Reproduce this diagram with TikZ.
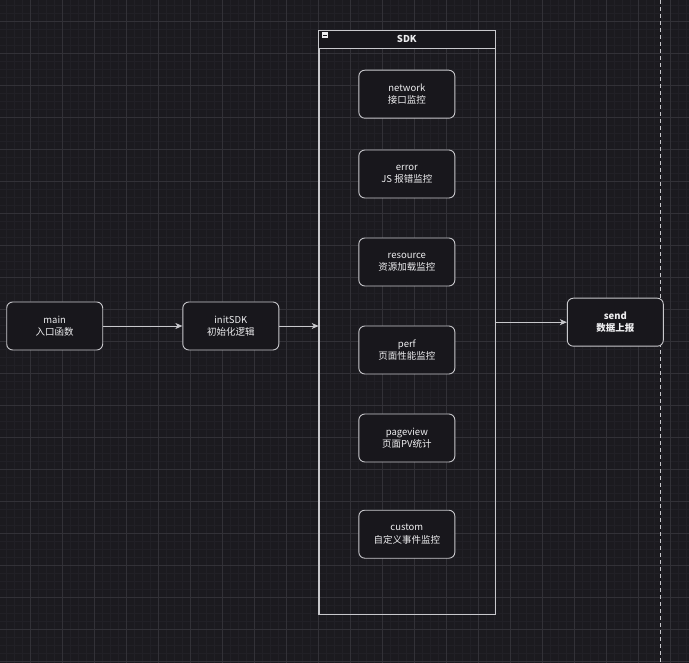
\documentclass[tikz,border=0pt]{standalone}
\usepackage{fontspec}
\setmainfont{Noto Sans CJK SC}
\usetikzlibrary{arrows.meta}
\definecolor{bgc}{RGB}{27,26,31}
\definecolor{minorc}{RGB}{33,32,38}
\definecolor{majorc}{RGB}{50,49,55}
\definecolor{boxfill}{RGB}{24,23,28}
\definecolor{edgec}{RGB}{200,200,204}
\definecolor{textc}{RGB}{238,238,240}
\tikzset{
  box/.style={draw=edgec, fill=boxfill, rounded corners=6pt, line width=0.9pt,
    minimum width=96pt, minimum height=48pt, inner sep=0pt, align=center,
    text=textc, font=\fontsize{9.5}{12.5}\selectfont},
  conn/.style={draw=edgec, line width=0.9pt, -{Stealth[length=7pt,width=6pt,inset=2pt]}},
  minorgrid/.style={draw=minorc, line width=0.6pt},
  majorgrid/.style={draw=majorc, line width=0.7pt},
}
\begin{document}
\begin{tikzpicture}[x=1pt,y=-1pt]
\useasboundingbox (0,0) rectangle (689,663);
\fill[bgc] (0,0) rectangle (689,663);
% grid
\foreach \i in {0,...,86} {\draw[minorgrid] ({-1.3+8*\i},0) -- ++(0,663);}
\foreach \i in {0,...,83} {\draw[minorgrid] (0,{-2.7+8*\i}) -- ++(689,0);}
\foreach \i in {0,...,22} {\draw[majorgrid] ({-1.3+32*\i},0) -- ++(0,663);}
\foreach \i in {0,...,21} {\draw[majorgrid] (0,{-10.7+32*\i}) -- ++(689,0);}
% dashed page line
\draw[draw=edgec, line width=0.9pt, dash pattern=on 4pt off 3pt] (660.3,0) -- (660.3,663);
% SDK container
\node[draw=edgec, line width=0.9pt, minimum width=176.3pt, minimum height=584pt, inner sep=0pt, anchor=north west] (sdk) at (318.7,30) {};
\fill[boxfill] (319.2,30.5) rectangle (494.5,48.3);
\draw[draw=edgec, line width=0.9pt] (318.7,30) rectangle (495,614);
\draw[draw=edgec, line width=0.9pt] (318.7,48.3) -- (495,48.3);
\node[text=textc, font=\fontsize{9.5}{12}\selectfont\bfseries] (sdktitle) at (406.85,39.2) {SDK};
\fill[textc] (322,32.3) rectangle (328,38.3);
\draw[boxfill, line width=0.9pt] (323.2,35.3) -- (326.8,35.3);
% left chain
\node[box] (main) at (54.7,326) {main\\入口函数};
\node[box] (init) at (230.85,326) {initSDK\\初始化逻辑};
% SDK children
\node[box] (network) at (406.85,94.2) {network\\接口监控};
\node[box] (error) at (406.85,174) {error\\JS 报错监控};
\node[box] (resource) at (406.85,262) {resource\\资源加载监控};
\node[box] (perf) at (406.85,350) {perf\\页面性能监控};
\node[box] (pageview) at (406.85,438) {pageview\\页面PV统计};
\node[box] (custom) at (406.85,534.2) {custom\\自定义事件监控};
% send
\node[box, font=\fontsize{9.5}{12.5}\selectfont\bfseries] (send) at (615.3,322.2) {send\\数据上报};
% connectors
\coordinate (sdkin) at (318.7,326);
\coordinate (sdkout) at (495,322.2);
\draw[conn] (main.east) -- (init.west);
\draw[conn] (init.east) -- (sdkin);
\draw[conn] (sdkout) -- (send.west);
\end{tikzpicture}
\end{document}
